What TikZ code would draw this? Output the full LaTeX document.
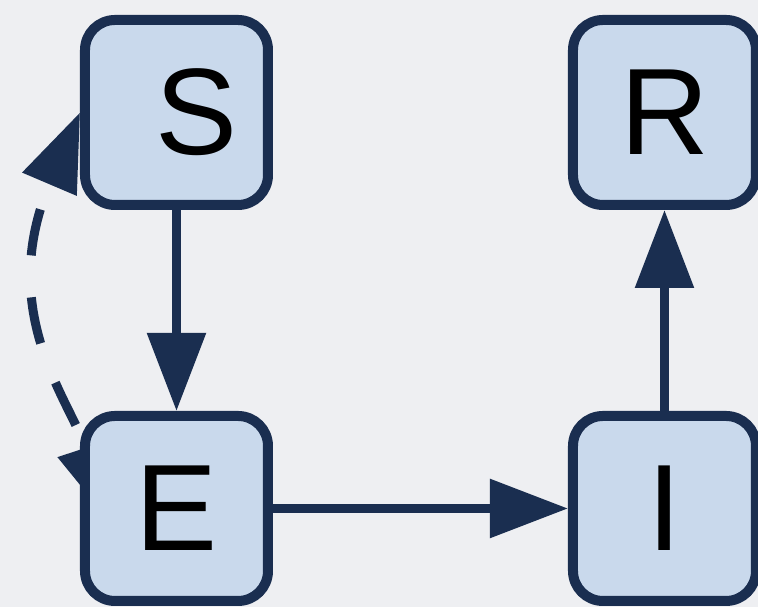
\documentclass[tikz,border=0pt]{standalone}
\usepackage{fontspec}
\setmainfont{Liberation Sans}
\usetikzlibrary{arrows.meta,backgrounds}
\definecolor{navy}{HTML}{1A2E50}
\definecolor{boxblue}{HTML}{C9D9EC}
\definecolor{paper}{HTML}{EEEFF2}

\begin{document}
\begin{tikzpicture}[
        compartment/.style={draw=navy, fill=boxblue, line width=0.1cm, rounded corners=0.3cm,
            minimum width=1.83cm, minimum height=1.85cm, inner sep=0pt,
            font=\fontsize{35}{40}\selectfont},
        flow/.style={draw=navy, line width=0.09cm, -{Triangle[length=0.78cm,width=0.57cm]}}
    ]
        \useasboundingbox (0,0) rectangle (7.58,6.07);
        % compartments
        \node[compartment] (S) at (1.765,4.945) {\kern0.4cm S};
        \node[compartment] (R) at (6.645,4.945) {R};
        \node[compartment] (E) at (1.765,0.985) {E};
        \node[compartment] (I) at (6.645,0.985) {I};
        \coordinate (Etip) at ([shift={(0.30,-0.135)}]E.west);
        \begin{scope}[on background layer]
            \fill[paper] (0,0) rectangle (7.58,6.07);
            \draw[flow] (S) -- (E);
            \draw[flow] (E) -- (I);
            \draw[flow] (I) -- (R);
            % feedback E <-> S
            \draw[flow, {Triangle[length=0.78cm,width=0.57cm]}-{Triangle[length=0.78cm,width=0.57cm]},
                dash pattern=on 0.47cm off 0.42cm, dash phase=0.6cm]
                (S.west) .. controls (-0.05,2.95) and (0.7,2.07) .. (Etip);
        \end{scope}
    \end{tikzpicture}
\end{document}
